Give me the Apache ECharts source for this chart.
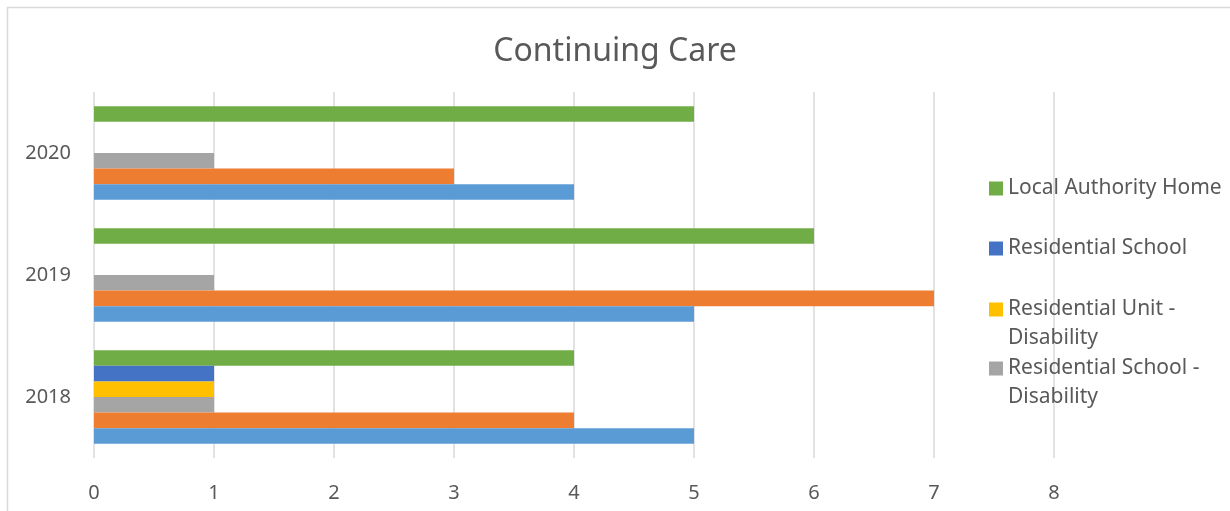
<!DOCTYPE html>
<html>
<head>
<meta charset="utf-8">
<title>Continuing Care</title>
<script src="https://cdn.jsdelivr.net/npm/echarts@6/dist/echarts.min.js"></script>
<style>
  html, body { margin: 0; padding: 0; background: #fff; }
  #chart { width: 1230px; height: 511px; }
</style>
</head>
<body>
<div id="chart"></div>
<script>
// data
const years = ['2018', '2019', '2020']
const seriesNames = [
  'Series 1',
  'Series 2',
  'Residential School - Disability',
  'Residential Unit - Disability',
  'Residential School',
  'Local Authority Home'
]
const seriesColors = ['#5B9BD5', '#ED7D31', '#A5A5A5', '#FFC000', '#4472C4', '#70AD47']
const series1Values = [5, 5, 4]
const series2Values = [4, 7, 3]
const resSchoolDisValues = [1, 1, 1]
const resUnitDisValues = [1, 0, 0]
const resSchoolValues = [1, 0, 0]
const localAuthValues = [4, 6, 5]
const xTicks = [0, 1, 2, 3, 4, 5, 6, 7, 8]

const allValues = [series1Values, series2Values, resSchoolDisValues, resUnitDisValues, resSchoolValues, localAuthValues]
const font = '"Noto Sans", "Open Sans", sans-serif'
const textColor = '#595959'

// one legend per entry; the leading blank line keeps the icon level with the first text line
const legendEntries = [
  { name: 'Local Authority Home', top: 174, label: 'Local Authority Home' },
  { name: 'Residential School', top: 234, label: 'Residential School' },
  { name: 'Residential Unit - Disability', top: 266, label: '\nResidential Unit -\nDisability' },
  { name: 'Residential School - Disability', top: 325, label: '\nResidential School -\nDisability' }
]

const chart = echarts.init(document.getElementById('chart'), null, { renderer: 'canvas' })

// echarts stacks the first series at the top of a band, the reference has it at the bottom
const order = [5, 4, 3, 2, 1, 0]

const option = {
  animation: false,
  backgroundColor: '#fff',
  title: {
    text: 'Continuing Care',
    left: 'center',
    top: 31,
    textStyle: { fontFamily: font, fontSize: 32, fontWeight: 'normal', color: textColor }
  },
  graphic: [
    {
      type: 'rect',
      left: 5,
      top: 5,
      shape: { width: 1240, height: 520 },
      style: { fill: 'none', stroke: '#D9D9D9', lineWidth: 1.5 },
      silent: true
    }
  ],
  legend: legendEntries.map((e) => ({
    data: [e.name],
    left: 989,
    top: e.top,
    padding: 0,
    itemWidth: 14,
    itemHeight: 14,
    icon: 'rect',
    selectedMode: false,
    formatter: () => e.label,
    textStyle: { fontFamily: font, fontSize: 21, color: textColor, lineHeight: 29 }
  })),
  grid: { left: 94, right: 176, top: 92, bottom: 53, containLabel: false },
  xAxis: {
    type: 'value',
    min: xTicks[0],
    max: xTicks[xTicks.length - 1],
    interval: 1,
    axisLine: { show: false },
    axisTick: { show: false },
    splitLine: { lineStyle: { color: '#D9D9D9', width: 1.5 } },
    axisLabel: { fontFamily: font, fontSize: 20, color: textColor, margin: 25 }
  },
  yAxis: {
    type: 'category',
    data: years,
    axisLine: { show: false },
    axisTick: { show: false },
    splitLine: { show: false },
    axisLabel: { fontFamily: font, fontSize: 20, color: textColor, margin: 23 }
  },
  series: order.map((i) => ({
    name: seriesNames[i],
    type: 'bar',
    barWidth: 15.6,
    barGap: '0%',
    itemStyle: { color: seriesColors[i] },
    data: allValues[i]
  }))
}

chart.setOption(option)
</script>
</body>
</html>
